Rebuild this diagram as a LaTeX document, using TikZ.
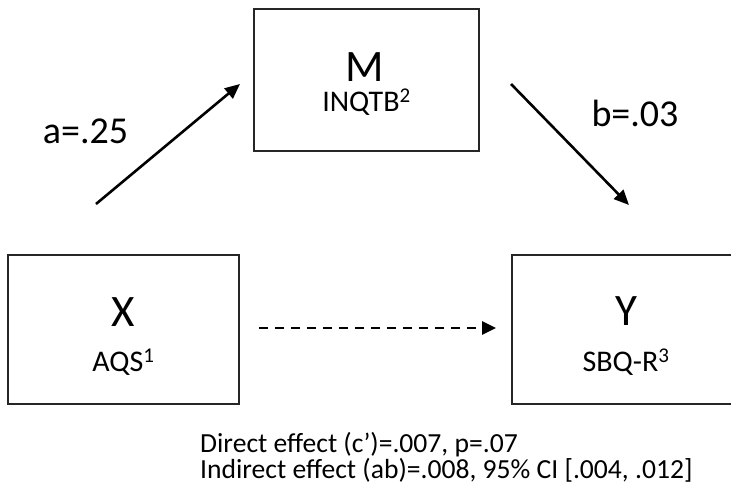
\documentclass[tikz,border=0pt]{standalone}
\usepackage{fontspec}
\setmainfont{Carlito}
\usetikzlibrary{arrows.meta}
\begin{document}
\begin{tikzpicture}[x=1pt,y=-1pt,
  varbox/.style={draw=black!85,line width=1.8pt,rectangle,inner sep=0pt},
  bigletter/.style={anchor=base,inner sep=0pt,font=\fontsize{45}{45}\selectfont},
  subname/.style={anchor=base,inner sep=0pt,font=\fontsize{30}{30}\selectfont},
  coef/.style={anchor=base,inner sep=0pt,font=\fontsize{38}{38}\selectfont},
  note/.style={anchor=base west,inner sep=0pt,font=\fontsize{27.6}{27.6}\selectfont},
  path arrow/.style={line width=2.6pt,-{Triangle[length=15pt,width=13pt]}}]
\useasboundingbox (0,0) rectangle (731,498);
\clip (0,0) rectangle (731,498);
% boxes
\node[varbox,minimum width=231pt,minimum height=149pt] (X) at (123.5,329.5) {};
\node[varbox,minimum width=225pt,minimum height=142pt] (M) at (366.5,80) {};
\node[varbox,minimum width=231pt,minimum height=149pt] (Y) at (627.5,329.5) {};
% box texts
\node[bigletter] (Xl) at (123.5,326) {X};
\node[subname] (Xs) at (123.5,371.5) {AQS\textsuperscript{1}};
\node[bigletter] (Ml) at (364.5,81) {M};
\node[subname] (Ms) at (366.5,111.5) {INQTB\textsuperscript{2}};
\node[bigletter] (Yl) at (626,325) {Y};
\node[subname] (Ys) at (626,371.5) {SBQ-R\textsuperscript{3}};
% arrows
\coordinate (a1) at (96,204);
\coordinate (a2) at (240,84);
\coordinate (b1) at (511,84);
\coordinate (b2) at (629,205);
\coordinate (c1) at (259,328);
\coordinate (c2) at (496,328);
\draw[path arrow] (a1) -- (a2);
\draw[path arrow] (b1) -- (b2);
\draw[line width=2.6pt,dash pattern=on 9pt off 7pt,-{Triangle[length=14pt,width=13pt]}] (c1) -- (c2);
% coefficients
\node[coef] (alab) at (85.5,143) {a=.25};
\node[coef] (blab) at (635,126) {b=.03};
% notes
\node[note] (n1) at (200,452) {Direct effect (c’)=.007, p=.07};
\node[note] (n2) at (200,478) {Indirect effect (ab)=.008, 95\% CI [.004, .012]};
\end{tikzpicture}
\end{document}
